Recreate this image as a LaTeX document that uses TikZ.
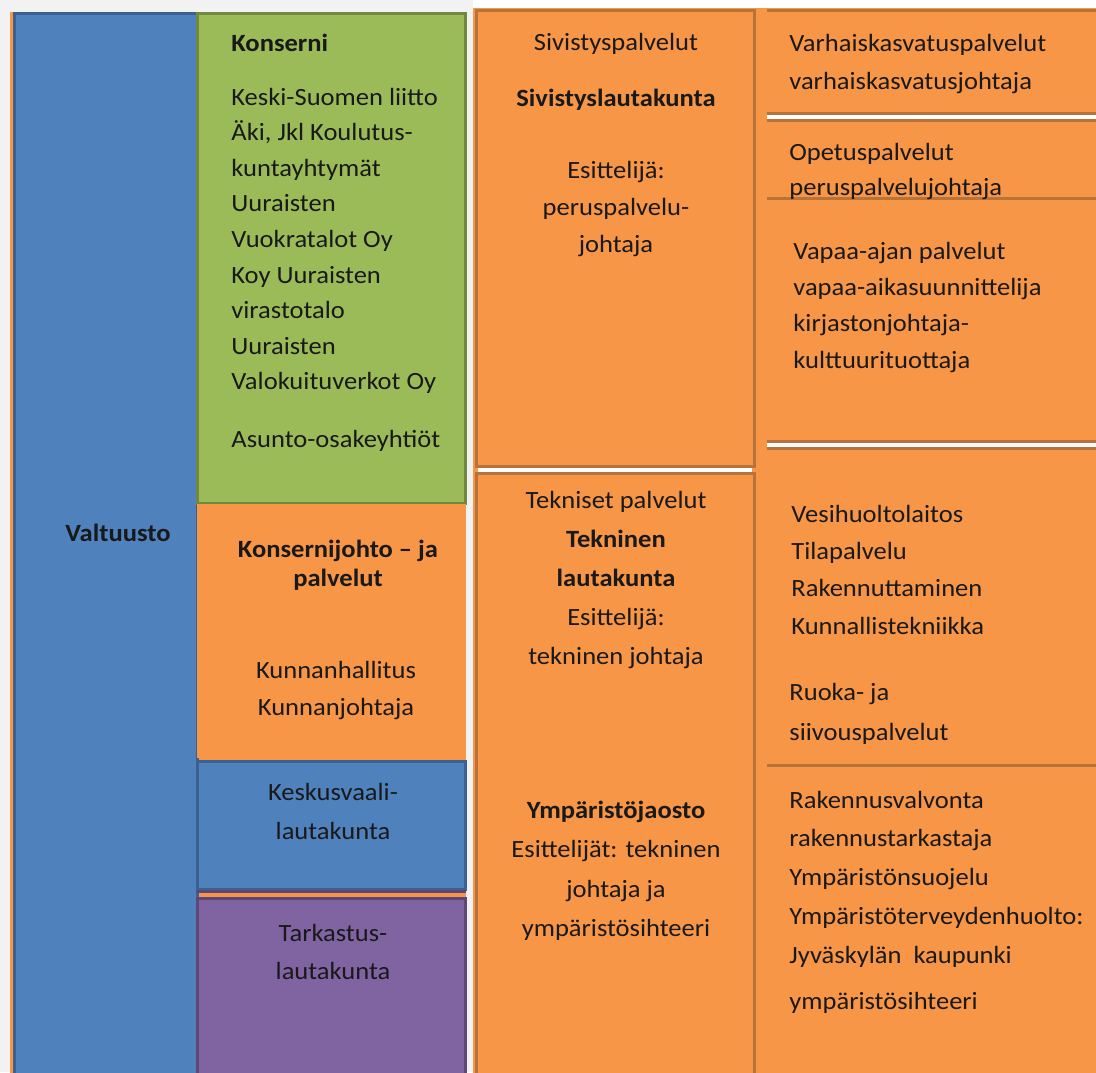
\documentclass[tikz,border=0pt]{standalone}
\usepackage{fontspec}
\setmainfont{Carlito}[FakeStretch=1.07]
\definecolor{pagegray}{HTML}{F2F2F2}
\definecolor{valtblue}{HTML}{4F81BD}
\definecolor{valtblueline}{HTML}{3A6191}
\definecolor{konsgreen}{HTML}{9BBB59}
\definecolor{konsgreenline}{HTML}{71893F}
\definecolor{palvorange}{HTML}{F79646}
\definecolor{palvorangeline}{HTML}{B8733A}
\definecolor{tarkpurple}{HTML}{8064A2}
\definecolor{tarkpurpleline}{HTML}{5C4776}

\begin{document}
\begin{tikzpicture}[x=0.5pt, y=-0.5pt,
	box/.style={line width=1.5pt},
	bluebox/.style={box, fill=valtblue, draw=valtblueline},
	greenbox/.style={box, fill=konsgreen, draw=konsgreenline},
	orangebox/.style={box, fill=palvorange, draw=palvorangeline},
	purplebox/.style={box, fill=tarkpurple, draw=tarkpurpleline},
	rule/.style={draw=palvorangeline, line width=1.5pt},
	dblrule/.style={rule, double=white, double distance=2pt},
	lbl/.style={font=\fontsize{12.4}{#1}\selectfont, inner sep=0pt, text=black!90, execute at begin node={\rule{0pt}{11pt}}},
	lleft/.style={lbl=#1, anchor=north west, align=left},
	lleft/.default=18,
	lmid/.style={lbl=#1, anchor=north, align=center},
	lmid/.default=18
]

\useasboundingbox (0,0) rectangle (1096,1072);
\clip (0,0) rectangle (1096,1072);

\fill[pagegray] (0,0) rectangle (473,1072);
\fill[palvorange] (10,12) rectangle (466,1080);
\draw[bluebox] (14,13) rectangle (197,1090);
\draw[greenbox] (197,13) rectangle (465,503);
\fill[palvorange] (197,504) rectangle (466,758);
\draw[bluebox] (197,761) rectangle (465,889);
\draw[tarkpurpleline, line width=1.5pt] (197,891) -- (466,891);
\draw[purplebox] (197,898) rectangle (465,1090);

\fill[palvorange] (473,8) rectangle (1096,1080);
\draw[orangebox] (476,10) rectangle (754,466);
\draw[orangebox] (476,473) rectangle (754,1090);
\draw[dblrule] (478,469.5) -- (752,469.5);

\draw[rule] (767,10) -- (1100,10);
\draw[dblrule] (767,117) -- (1100,117);
\draw[rule] (767,198) -- (1100,198);
\draw[dblrule] (767,445) -- (1100,445);
\draw[rule] (767,765) -- (1100,765);

\node[lmid] (valtuusto) at (118,519.5) {\textbf{Valtuusto}};

\node[lleft] (konserni) at (231,29.5) {\textbf{Konserni}};
\node[lleft=17.8] (yhteisot) at (231,87.5) {Keski-Suomen liitto\\Äki, Jkl Koulutus-\\kuntayhtymät\\Uuraisten\\Vuokratalot Oy\\Koy Uuraisten\\virastotalo\\Uuraisten\\Valokuituverkot Oy};
\node[lleft] (asunto) at (231,425) {Asunto-osakeyhtiöt};

\node[lmid=14.5] (konsjohto) at (338,539.5) {\textbf{Konsernijohto – ja}\\\textbf{palvelut}};
\node[lmid=18.5] (khallitus) at (336,660.5) {Kunnanhallitus\\Kunnanjohtaja};
\node[lmid=19.5] (keskusvaali) at (333,782.5) {Keskusvaali-\\lautakunta};
\node[lmid=19] (tarkastus) at (333,923.5) {Tarkastus-\\lautakunta};

\node[lmid] (sivpalv) at (616,28.5) {Sivistyspalvelut};
\node[lmid] (sivlauta) at (616,84.5) {\textbf{Sivistyslautakunta}};
\node[lmid=18.5] (sivesitt) at (616,161) {Esittelijä:\\peruspalvelu-\\johtaja};
\node[lmid=19.6] (tekpalv) at (616,490.5) {Tekniset palvelut\\\textbf{Tekninen}\\\textbf{lautakunta}\\Esittelijä:\\tekninen johtaja};
\node[lmid=19.7] (ympjaosto) at (616,800.5) {\textbf{Ympäristöjaosto}\\Esittelijät: tekninen\\johtaja ja\\ympäristösihteeri};

\node[lleft=19] (varhais) at (789,33.5) {Varhaiskasvatuspalvelut\\varhaiskasvatusjohtaja};
\node[lleft=17.5] (opetus) at (789,142.5) {Opetuspalvelut\\peruspalvelujohtaja};
\node[lleft=18.2] (vapaa) at (793,241.5) {Vapaa-ajan palvelut\\vapaa-aikasuunnittelija\\kirjastonjohtaja-\\kulttuurituottaja};
\node[lleft=18.7] (vesi) at (791,504.5) {Vesihuoltolaitos\\Tilapalvelu\\Rakennuttaminen\\Kunnallistekniikka};
\node[lleft=20] (ruoka) at (789,682.5) {Ruoka- ja\\siivouspalvelut};
\node[lleft=19.4] (rakval) at (789,790.5) {Rakennusvalvonta\\rakennustarkastaja\\Ympäristönsuojelu\\Ympäristöterveydenhuolto:\\Jyväskylän\ \ kaupunki};
\node[lleft] (ympsiht) at (789,987.5) {ympäristösihteeri};

\end{tikzpicture}
\end{document}
